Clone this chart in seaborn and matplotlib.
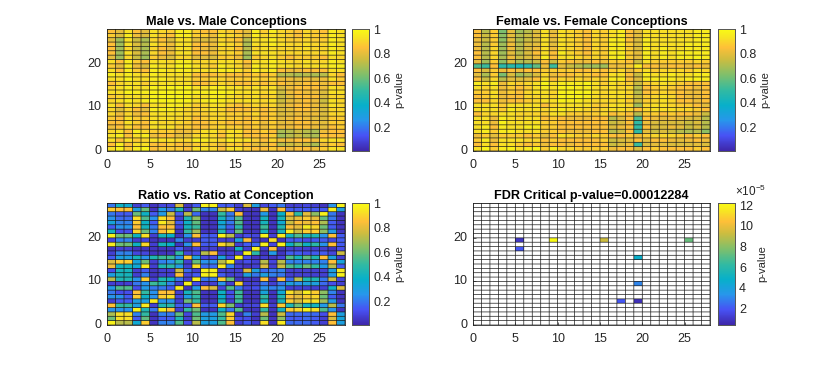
import numpy as np
import matplotlib
matplotlib.use('Agg')
import matplotlib.pyplot as plt
import seaborn as sns
from matplotlib.colors import LinearSegmentedColormap

# p-values in percent, rows listed from the top of each panel down
male_p = [
    [85,80,92,85,80,92,90,88,95,95,88,85,85,90,88,85,80,95,88,95,90,88,85,90,88,85,95,92],
    [88,78,95,82,78,92,88,85,95,95,88,88,82,92,90,88,78,95,90,92,90,88,85,90,88,88,95,92],
    [80,68,92,75,70,90,85,78,92,92,80,78,80,90,88,85,72,92,92,95,90,88,88,90,88,88,95,92],
    [85,68,92,78,72,92,88,82,92,92,85,85,82,92,90,88,70,92,92,95,92,90,90,92,90,90,95,92],
    [85,68,90,75,70,90,85,80,92,92,85,82,80,90,90,85,72,90,92,92,90,90,90,92,90,90,95,92],
    [85,68,92,78,70,90,85,82,92,92,85,85,82,90,90,88,70,92,92,92,90,90,90,90,90,90,95,92],
    [80,68,90,75,68,88,82,78,90,90,80,80,78,88,88,82,68,88,90,92,88,85,88,88,88,85,92,90],
    [92,85,95,88,85,92,92,90,95,95,90,90,90,92,92,90,85,92,92,95,92,90,90,92,90,90,95,92],
    [88,80,95,82,78,95,92,92,97,97,92,90,88,95,92,90,82,95,92,95,92,92,90,92,92,92,95,95],
    [92,85,95,88,85,95,95,92,95,95,92,92,92,95,95,92,88,95,92,95,85,82,82,85,85,85,92,92],
    [95,92,95,92,90,95,92,92,92,92,85,85,85,88,85,85,85,88,85,88,72,72,70,72,70,72,90,85],
    [92,92,97,92,92,95,95,92,92,92,88,88,90,90,88,88,88,90,88,90,82,82,80,82,80,82,92,88],
    [85,90,92,92,88,92,92,92,92,92,85,85,88,90,88,85,85,88,85,88,85,82,82,85,85,82,85,85],
    [90,92,95,92,92,97,95,97,97,97,92,92,95,95,92,92,90,92,90,92,78,82,85,85,85,82,92,90],
    [92,92,97,95,95,97,97,97,97,97,95,95,97,97,95,92,92,92,90,92,75,82,85,82,82,78,92,92],
    [88,90,92,92,92,97,97,97,97,95,92,92,95,95,92,90,90,92,88,90,75,80,85,85,85,78,90,90],
    [90,92,95,92,95,97,97,97,97,97,92,95,97,95,92,92,92,92,90,92,75,80,82,85,82,75,92,90],
    [92,85,92,90,85,92,92,95,95,92,88,90,92,92,88,85,88,90,88,90,78,82,85,85,82,78,92,90],
    [90,78,90,85,80,95,95,95,92,90,88,90,92,90,85,85,85,88,85,88,78,80,85,85,82,78,90,90],
    [90,82,90,82,85,92,92,92,92,90,88,88,90,90,88,88,88,90,85,88,78,80,82,82,82,78,90,90],
    [88,85,92,88,88,92,92,92,90,90,85,88,90,90,88,88,85,88,85,88,80,82,85,82,80,78,88,88],
    [85,85,92,88,85,92,90,90,90,88,85,85,88,88,85,85,85,88,82,88,80,82,85,85,82,80,88,88],
    [82,85,90,85,85,92,92,92,88,88,85,85,88,90,88,88,85,88,82,88,82,82,85,85,82,80,85,88],
    [90,92,85,95,90,88,88,88,82,82,88,92,92,88,92,92,85,85,88,85,70,72,75,72,70,82,85,85],
    [92,95,85,92,95,82,85,85,80,80,90,92,90,85,92,90,85,85,85,88,68,72,75,72,70,85,85,85],
    [92,85,92,88,90,92,92,92,90,90,95,95,92,90,95,92,92,88,85,90,82,82,85,85,82,90,92,92],
    [85,95,85,92,92,85,85,88,85,82,88,90,88,82,88,88,85,80,80,85,72,75,78,75,70,82,88,85],
    [92,97,88,95,97,85,88,88,88,85,92,92,90,85,92,92,88,85,85,88,85,82,85,85,82,88,92,92],
]

female_p = [
    [85,72,88,62,80,68,72,78,92,80,92,90,88,85,90,88,92,95,85,80,92,92,92,92,92,92,95,95],
    [85,75,88,65,80,72,75,80,92,82,92,90,88,85,90,88,92,95,85,80,92,92,92,92,92,92,95,95],
    [82,75,88,65,80,70,75,78,92,80,92,90,88,85,90,88,95,95,85,78,95,92,92,92,92,92,95,95],
    [82,72,88,68,82,72,78,80,92,80,92,90,88,85,90,88,95,95,88,78,95,92,92,92,92,95,95,95],
    [82,72,90,68,82,72,78,82,92,82,92,90,88,85,90,88,95,95,88,78,95,92,95,92,92,95,95,95],
    [85,72,90,68,80,72,78,85,92,85,95,90,88,85,90,88,95,95,88,80,95,92,95,92,95,95,95,95],
    [85,72,90,70,82,75,78,82,95,85,92,92,90,88,90,88,95,97,88,80,95,92,95,92,95,95,97,95],
    [80,68,88,65,78,70,72,75,85,75,88,85,82,82,85,82,88,88,85,75,92,88,88,88,88,88,90,88],
    [55,52,85,48,48,45,48,58,82,52,80,75,72,68,68,68,82,82,88,95,85,85,82,85,85,82,85,82],
    [85,78,88,82,85,82,85,85,88,88,88,88,85,85,88,85,88,90,82,88,92,88,90,90,90,88,92,90],
    [80,70,88,62,78,68,72,78,90,82,85,85,88,88,85,85,92,92,85,75,95,92,92,95,92,92,95,95],
    [85,75,90,72,80,78,80,85,92,85,90,88,90,88,90,88,95,95,85,78,95,95,95,95,92,95,97,95],
    [95,92,95,82,90,88,90,92,97,92,95,95,95,97,92,88,92,90,88,75,88,90,92,90,88,85,85,85],
    [92,90,92,82,88,85,88,92,95,92,97,97,95,95,92,90,92,90,90,72,85,88,90,88,85,85,82,85],
    [88,88,92,82,88,85,90,92,92,90,97,97,97,97,92,90,92,92,90,72,85,88,90,88,85,82,82,85],
    [85,88,92,82,85,85,90,90,92,90,97,97,97,95,92,90,92,92,90,75,88,90,92,90,85,82,82,85],
    [85,85,90,82,85,85,88,90,92,92,97,95,95,92,90,90,90,92,88,75,88,90,92,90,85,85,82,85],
    [92,92,92,88,92,92,92,92,85,90,92,92,92,92,88,88,92,92,90,68,90,92,92,90,88,88,85,80],
    [92,92,92,88,95,92,92,92,90,92,95,92,92,90,88,90,92,92,90,85,90,92,92,92,90,90,88,85],
    [85,90,90,92,92,90,90,90,88,92,92,88,88,88,88,90,85,88,85,72,88,88,85,88,85,85,82,75],
    [92,92,82,95,92,90,92,92,85,88,85,82,82,82,85,85,72,78,85,55,85,82,80,82,80,78,78,72],
    [92,92,82,97,92,92,92,92,88,88,85,85,85,85,85,85,75,78,85,50,82,78,78,78,78,75,78,72],
    [92,95,85,95,92,92,95,95,88,88,85,85,85,85,85,85,78,82,85,50,85,78,78,82,80,75,78,72],
    [92,95,88,95,95,92,92,92,88,88,85,82,82,82,85,85,72,75,85,50,80,75,78,75,72,70,72,65],
    [82,88,80,88,88,88,85,88,80,85,92,90,88,88,90,88,85,85,88,82,88,90,90,90,88,85,88,85],
    [88,95,82,92,92,92,90,90,85,88,85,85,85,85,85,88,75,78,80,85,80,85,85,82,80,82,85,82],
    [85,92,85,92,92,88,85,88,82,85,85,82,85,85,85,85,75,78,82,52,78,80,80,78,78,78,80,78],
    [92,97,88,95,97,92,95,97,88,95,90,90,88,88,88,88,82,85,85,78,85,88,85,85,85,85,88,85],
]

ratio_p = [
    [20,40,35,8,15,5,10,10,78,5,15,97,97,15,15,8,78,30,10,15,20,8,8,10,8,5,25,97],
    [88,85,85,30,58,5,28,20,45,8,60,22,22,75,88,8,5,5,82,5,85,15,15,15,15,15,97,30],
    [20,15,15,60,40,15,28,75,15,72,18,5,5,50,20,85,5,5,28,5,38,85,50,80,65,97,20,5],
    [25,18,18,92,55,25,92,85,8,45,65,5,5,42,22,55,5,5,42,5,42,78,80,88,80,58,20,5],
    [32,22,22,88,40,15,95,80,15,40,58,5,5,35,20,55,5,5,42,5,35,75,85,82,85,70,15,5],
    [15,25,25,85,42,20,85,85,10,42,52,5,5,30,15,48,5,5,52,5,45,85,80,95,90,60,15,5],
    [42,12,12,90,60,22,85,92,5,50,68,5,5,45,12,58,5,5,42,5,42,95,75,88,88,65,28,5],
    [97,60,60,40,92,8,42,38,5,25,85,15,15,97,72,8,12,10,97,8,95,42,55,42,45,25,85,15],
    [10,22,22,8,10,5,5,5,22,8,8,15,15,8,8,30,85,8,5,92,5,15,15,12,15,15,10,15],
    [95,60,60,40,90,8,42,38,5,25,85,15,15,90,75,8,15,18,97,10,97,40,55,40,48,25,85,15],
    [5,8,8,5,5,5,5,5,15,5,10,8,8,5,5,40,8,97,8,85,5,8,8,8,8,8,5,12],
    [8,22,22,10,10,5,5,5,50,10,12,72,85,8,8,8,97,48,5,28,5,15,15,12,15,15,10,75],
    [15,30,30,42,25,45,52,52,25,88,30,10,10,32,12,97,12,5,8,5,10,55,42,58,45,85,30,8],
    [78,88,88,32,60,8,22,25,48,8,58,25,25,72,97,8,12,8,72,10,72,22,22,22,22,22,85,32],
    [82,42,42,35,95,8,45,48,28,8,92,18,18,95,22,8,5,8,78,8,75,55,48,60,50,28,72,15],
    [12,42,42,8,15,5,8,8,75,18,8,97,97,8,8,8,78,30,18,20,22,8,8,8,8,8,30,95],
    [30,42,42,8,22,5,8,8,85,10,15,97,97,15,8,8,30,20,30,22,20,8,8,8,8,8,28,97],
    [72,45,45,25,88,8,45,40,20,8,97,20,20,88,58,5,5,5,85,5,85,18,72,45,45,20,75,10],
    [8,8,8,20,25,52,45,22,8,97,12,8,8,25,8,90,8,8,20,8,20,30,25,30,30,18,12,8],
    [28,55,55,12,28,20,20,15,95,5,28,85,78,10,55,20,10,12,25,22,25,8,8,8,8,8,40,78],
    [20,12,12,85,50,25,85,85,8,42,55,5,5,40,12,52,5,5,32,5,35,92,78,95,88,65,22,5],
    [25,25,15,88,40,25,88,92,10,30,50,5,5,38,12,52,5,5,50,5,45,85,80,88,90,60,15,5],
    [8,15,15,30,30,95,25,25,8,60,50,5,5,42,8,52,5,5,42,5,42,88,78,92,92,68,28,5],
    [85,50,50,30,95,8,45,48,15,15,85,15,15,90,62,8,10,10,92,8,88,45,60,42,42,28,72,20],
    [25,25,25,97,45,20,95,85,8,50,60,5,5,40,20,55,5,5,50,5,42,88,90,97,92,55,25,5],
    [70,92,92,22,50,5,22,20,58,10,55,28,28,55,90,5,22,8,72,5,75,18,18,18,18,12,85,30],
    [60,92,92,15,58,5,15,15,45,8,60,30,30,50,88,12,12,5,60,5,65,15,15,18,15,8,78,32],
    [97,72,72,35,88,5,22,22,55,12,72,30,30,55,85,8,15,8,92,5,95,18,18,18,15,8,85,30],
]

# cells that pass the FDR threshold (counted from bottom left, value in 1e-5)
fdr_col = [5, 5, 9, 15, 25, 19, 19, 19, 17]
fdr_row = [19, 17, 19, 19, 19, 15, 9, 5, 5]
fdr_val = [1.0, 2.0, 12.2, 9.3, 7.3, 4.8, 3.0, 0.8, 2.0]

titles = ['Male vs. Male Conceptions', 'Female vs. Female Conceptions',
          'Ratio vs. Ratio at Conception', 'FDR Critical p-value=0.00012284']
ticks = [0, 5, 10, 15, 20, 25]
yticks = [0, 10, 20]
cbar_ticks = [0.2, 0.4, 0.6, 0.8, 1]
cbar_labels = ['0.2', '0.4', '0.6', '0.8', '1']
fdr_ticks = [2, 4, 6, 8, 10, 12]

sns.set_style('white')
plt.rcParams['font.family'] = ['Liberation Sans', 'DejaVu Sans']
plt.rcParams['mathtext.default'] = 'regular'

parula = LinearSegmentedColormap.from_list('parula', [
    (0.000, (0.2422, 0.1504, 0.6603)),
    (0.125, (0.2810, 0.3228, 0.9579)),
    (0.250, (0.1540, 0.5902, 0.9218)),
    (0.375, (0.0300, 0.6900, 0.7900)),
    (0.500, (0.2000, 0.7300, 0.6300)),
    (0.625, (0.5000, 0.7500, 0.4200)),
    (0.750, (0.8000, 0.7400, 0.2500)),
    (0.850, (0.9970, 0.7500, 0.2199)),
    (0.930, (0.9700, 0.8900, 0.1400)),
    (1.000, (0.9769, 0.9839, 0.0805)),
])

W, H = 830, 365
dark = '#262626'
grid_c = '#1a1a1a'
grid_w = 0.5


def place(x0, y0, x1, y1):
    return [x0 / W, 1 - y1 / H, (x1 - x0) / W, (y1 - y0) / H]


def draw_grid(ax):
    # snapping off, otherwise every line grows to a full pixel and hides the thin rows
    for coll in (ax.hlines(range(29), 0, 28, color=grid_c, lw=grid_w, zorder=3),
                 ax.vlines(range(29), 0, 28, color=grid_c, lw=grid_w, zorder=3)):
        coll.set_snap(False)
        coll.set_antialiased(True)


fig = plt.figure(figsize=(8.3, 3.65), dpi=100, facecolor='white')

panels = [
    (np.array(male_p) / 100, 107, 345, 29, 151, 352, 369),
    (np.array(female_p) / 100, 473, 710, 29, 151, 718, 735),
    (np.array(ratio_p) / 100, 107, 345, 203, 325, 352, 369),
]

fdr = np.full((28, 28), np.nan)
for c, r, v in zip(fdr_col, fdr_row, fdr_val):
    fdr[r, c] = v

axes = []
for i, (vals, x0, x1, y0, y1, c0, c1) in enumerate(panels):
    ax = fig.add_axes(place(x0, y0, x1, y1))
    cax = fig.add_axes(place(c0, y0, c1, y1))
    sns.heatmap(vals[::-1], ax=ax, cbar_ax=cax, cmap=parula, vmin=0.01, vmax=1)
    draw_grid(ax)
    cax.set_yticks(cbar_ticks)
    cax.set_yticklabels(cbar_labels)
    axes.append((ax, cax))

ax = fig.add_axes(place(473, 203, 710, 325))
cax = fig.add_axes(place(718, 203, 735, 325))
sns.heatmap(fdr, ax=ax, cbar_ax=cax, cmap=parula, vmin=0.4, vmax=12.23)
draw_grid(ax)
cax.set_yticks(fdr_ticks)
cax.set_yticklabels([str(t) for t in fdr_ticks])
axes.append((ax, cax))
fig.text(735 / W, 1 - 199 / H, r'$\times10^{-5}$', fontsize=8.5, color=dark, va='bottom')

for (ax, cax), title in zip(axes, titles):
    ax.set_ylim(0, 28)
    ax.set_xlim(0, 28)
    ax.set_xticks(ticks)
    ax.set_xticklabels(ticks, rotation=0)
    ax.set_yticks(yticks)
    ax.set_yticklabels(yticks, rotation=0)
    ax.tick_params(direction='in', length=2, width=0.5, labelsize=9, colors=dark, pad=4,
                   top=False, right=False, left=True, bottom=True)
    ax.tick_params(axis='x', pad=6)
    ax.set_title(title, fontsize=9.1, fontweight='bold', color='black', pad=3)
    for s in ax.spines.values():
        s.set_visible(True)
        s.set_linewidth(0.6)
        s.set_color(dark)
    cax.tick_params(direction='in', length=2, width=0.5, labelsize=9, colors=dark, pad=3,
                    left=False, right=True)
    cax.set_ylabel('p-value', fontsize=8, color=dark, labelpad=3)
    cax.yaxis.set_label_position('right')
    for s in cax.spines.values():
        s.set_visible(True)
        s.set_linewidth(0.6)
        s.set_color('#555555')

fig.savefig('out.png', dpi=100)
